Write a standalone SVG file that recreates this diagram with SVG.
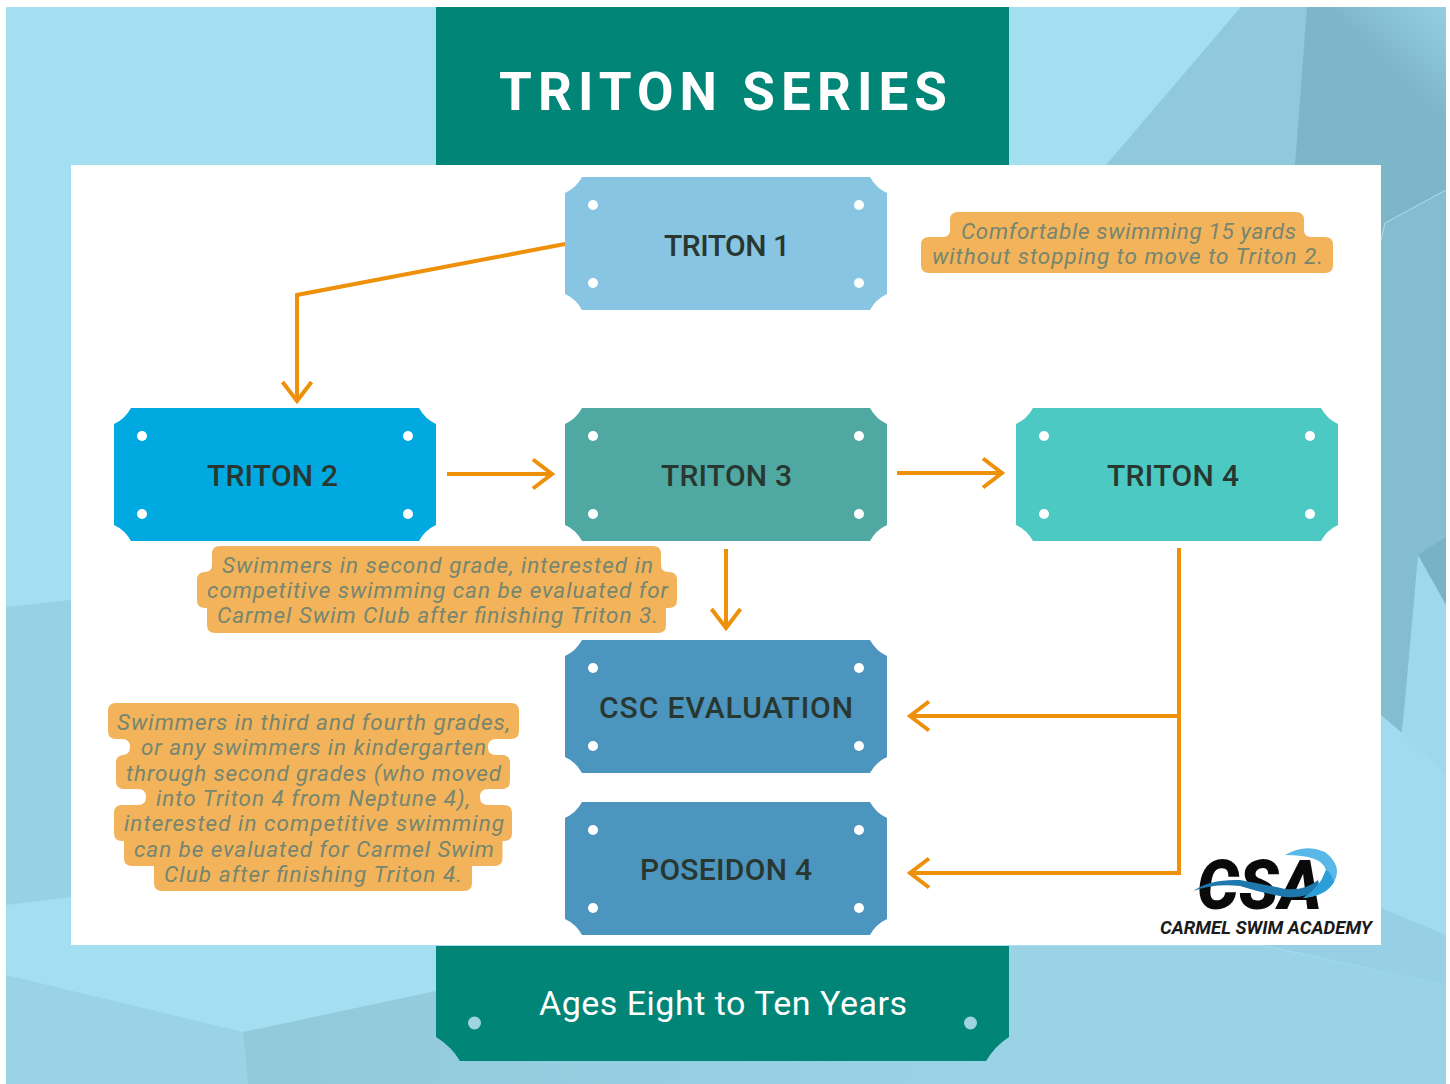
<svg xmlns="http://www.w3.org/2000/svg" xmlns:xlink="http://www.w3.org/1999/xlink" width="1450" height="1084" viewBox="0 0 1450 1084">
<style>
.lbl{font-family:"Roboto","Liberation Sans",sans-serif;font-weight:500;font-size:30px;fill:#28372f}
.note{font-family:"Roboto","Liberation Sans",sans-serif;font-style:italic;font-weight:400;font-size:22.500px;fill:#76866f}
.call{fill:#f2b35b}
.dot{fill:#fff}
.cn{fill:none;stroke:#ee9009;stroke-width:4;stroke-linejoin:miter}
</style>
<defs>
<path id="plaque" d="M17,0H305Q311,11 322,16V117Q311,122 305,133H17Q11,122 0,117V16Q11,11 17,0Z"/>
<g id="dots"><circle class="dot" cx="28" cy="28" r="5"/><circle class="dot" cx="294" cy="28" r="5"/><circle class="dot" cx="28" cy="106" r="5"/><circle class="dot" cx="294" cy="106" r="5"/></g>
<marker id="chev" markerUnits="userSpaceOnUse" markerWidth="30" markerHeight="36" refX="24" refY="18" orient="auto"><path d="M4,3.500L23,18L4,32.500" fill="none" stroke="#ee9009" stroke-width="4"/></marker>
<linearGradient id="gr" gradientUnits="userSpaceOnUse" x1="1388" y1="68" x2="1446" y2="7"><stop offset="0" stop-color="#94cfe2" stop-opacity="0"/><stop offset="1" stop-color="#94cfe2"/></linearGradient>
<linearGradient id="gb" gradientUnits="userSpaceOnUse" x1="300" y1="0" x2="1009" y2="0"><stop offset="0" stop-color="#92cadc"/><stop offset="1" stop-color="#9ad3e6"/></linearGradient>
</defs>
<g id="background">
<rect width="1450" height="1084" fill="#fff"/>
<rect x="6" y="7" width="1440" height="1077" fill="#a4def1"/>
<polygon points="6,607 71,600 71,897 6,905" fill="#96d1e4"/>
<polygon points="1241,7 1446,7 1446,720 1381,720 1381,165 1106,165" fill="#90c9dc"/>
<polygon points="1307,7 1446,7 1446,720 1381,715 1381,165 1295,165" fill="#7db6c8"/>
<polygon points="1330,7 1446,7 1446,130" fill="url(#gr)"/>
<polygon points="1385,223 1446,190 1446,537 1418,555 1402,733 1381,715 1381,240" fill="#84bdcf"/>
<polygon points="1418,555 1446,537 1446,605" fill="#78b3c5"/>
<polygon points="1418,555 1446,605 1446,790 1402,733" fill="#9dd8ec"/>
<polygon points="1381,715 1446,775 1446,935 1381,908" fill="#a0dbef"/>
<polygon points="1381,908 1446,935 1446,985 1263,945 1381,945" fill="#97d0e4"/>
<polygon points="1009,946 1263,946 1446,985 1446,1084 1009,1084" fill="#9ad3e6"/>
<polygon points="6,975 243,1032 248,1084 6,1084" fill="#9ad3e6"/>
<polygon points="243,1032 436,991 1009,991 1009,1084 248,1084" fill="url(#gb)"/>
<polyline points="1381,240 1385,223 1446,190" fill="none" stroke="#a9deee" stroke-width="1"/>
<rect x="71" y="165" width="1310" height="780" fill="#fff"/>
</g>
<g id="header"><rect x="436" y="7" width="573" height="158" fill="#018577"/>
<text x="499" y="110" font-family="Roboto,'Liberation Sans',sans-serif" font-weight="700" font-size="53" fill="#fff" textLength="448" lengthAdjust="spacing">TRITON SERIES</text></g>
<g id="footer"><path d="M436,946H1009V1037Q995,1046 986,1061H460Q451,1046 436,1037Z" fill="#018577"/>
<circle cx="474.500" cy="1023" r="6.500" fill="#9fd3df"/><circle cx="970.500" cy="1023" r="6.500" fill="#9fd3df"/>
<text x="539" y="1015" font-family="Roboto,'Liberation Sans',sans-serif" font-size="34" fill="#fff" textLength="368" lengthAdjust="spacing">Ages Eight to Ten Years</text></g>
<g id="connectors">
<path class="cn" d="M565,244L297,295V402" marker-end="url(#chev)"/>
<path class="cn" d="M447,474H553" marker-end="url(#chev)"/>
<path class="cn" d="M897,473H1003" marker-end="url(#chev)"/>
<path class="cn" d="M726,549V629" marker-end="url(#chev)"/>
<path class="cn" d="M1179,548V873H909" marker-end="url(#chev)"/>
<path class="cn" d="M1179,716H909" marker-end="url(#chev)"/>
</g>
<g id="triton1" transform="translate(565,177)"><use xlink:href="#plaque" fill="#87c5e2"/><use xlink:href="#dots"/><text class="lbl" x="99" y="79" textLength="126" lengthAdjust="spacing">TRITON 1</text></g>
<g id="triton2" transform="translate(114,408)"><use xlink:href="#plaque" fill="#00a9e0"/><use xlink:href="#dots"/><text class="lbl" x="93" y="78" textLength="131" lengthAdjust="spacing">TRITON 2</text></g>
<g id="triton3" transform="translate(565,408)"><use xlink:href="#plaque" fill="#4fa9a2"/><use xlink:href="#dots"/><text class="lbl" x="96" y="78" textLength="131" lengthAdjust="spacing">TRITON 3</text></g>
<g id="triton4" transform="translate(1016,408)"><use xlink:href="#plaque" fill="#4cc9c2"/><use xlink:href="#dots"/><text class="lbl" x="91" y="78" textLength="132" lengthAdjust="spacing">TRITON 4</text></g>
<g id="csc-evaluation" transform="translate(565,640)"><use xlink:href="#plaque" fill="#4c95bf"/><use xlink:href="#dots"/><text class="lbl" x="34" y="78" textLength="254" lengthAdjust="spacing">CSC EVALUATION</text></g>
<g id="poseidon4" transform="translate(565,802)"><use xlink:href="#plaque" fill="#4c95bf"/><use xlink:href="#dots"/><text class="lbl" x="75" y="78" textLength="172" lengthAdjust="spacing">POSEIDON 4</text></g>
<g id="note-triton1">
<path class="call" d="M958,212H1296Q1304,212 1304,220V230Q1304,237 1311,237H1325Q1333,237 1333,245V265Q1333,273 1325,273H929Q921,273 921,265V245Q921,237 929,237H943Q950,237 950,230V220Q950,212 958,212Z"/>
<text class="note" x="961" y="239" textLength="335" lengthAdjust="spacing">Comfortable swimming 15 yards</text>
<text class="note" x="932" y="264" textLength="391" lengthAdjust="spacing">without stopping to move to Triton 2.</text></g>
<g id="note-triton3">
<path class="call" d="M220,546H653Q661,546 661,554V565Q661,572 668,572H669Q677,572 677,580V600Q677,608 669,608H666V625Q666,633 658,633H215Q207,633 207,625V608H205Q197,608 197,600V580Q197,572 205,572H205Q212,572 212,565V554Q212,546 220,546Z"/>
<text class="note" x="222" y="573" textLength="431" lengthAdjust="spacing">Swimmers in second grade, interested in</text>
<text class="note" x="207" y="598" textLength="461" lengthAdjust="spacing">competitive swimming can be evaluated for</text>
<text class="note" x="217" y="623" textLength="441" lengthAdjust="spacing">Carmel Swim Club after finishing Triton 3.</text></g>
<g id="note-triton4">
<path class="call" d="M116,703H511Q519,703 519,711V731Q519,739 511,739H496Q488,739 488,747Q488,755 496,755H502Q510,755 510,763V781Q510,789 502,789H488Q480,789 480,797Q480,805 488,805H504Q512,805 512,813V833Q512,841 504,841H502.500V858Q502.500,866 494.500,866H472V883Q472,891 464,891H162Q154,891 154,883V866H132Q124,866 124,858V841H122Q114,841 114,833V813Q114,805 122,805H138Q146,805 146,797Q146,789 138,789H124Q116,789 116,781V763Q116,755 124,755H122Q130,755 130,747Q130,739 122,739H116Q108,739 108,731V711Q108,703 116,703Z"/>
<text class="note" x="117" y="730" textLength="393" lengthAdjust="spacing">Swimmers in third and fourth grades,</text>
<text class="note" x="141" y="755" textLength="345" lengthAdjust="spacing">or any swimmers in kindergarten</text>
<text class="note" x="126" y="781" textLength="375" lengthAdjust="spacing">through second grades (who moved</text>
<text class="note" x="156" y="806" textLength="314" lengthAdjust="spacing">into Triton 4 from Neptune 4),</text>
<text class="note" x="124" y="831" textLength="380" lengthAdjust="spacing">interested in competitive swimming</text>
<text class="note" x="134" y="857" textLength="360" lengthAdjust="spacing">can be evaluated for Carmel Swim</text>
<text class="note" x="164" y="882" textLength="298" lengthAdjust="spacing">Club after finishing Triton 4.</text></g>
<g id="logo">
<text x="1197" y="909" font-family="Roboto,'Liberation Sans',sans-serif" font-weight="900" font-style="italic" font-size="68" fill="#0a0a0a" textLength="125" lengthAdjust="spacingAndGlyphs">CSA</text>
<path d="M1193,891Q1210,879 1240,880Q1262,884 1285,889Q1305,891 1318,880L1320,889Q1305,899 1285,897Q1262,893 1240,886Q1215,883 1193,891Z" fill="#1f78ad"/>
<path d="M1285,855Q1305,843 1325,852Q1343,866 1334,882Q1326,896 1303,898Q1320,888 1326,870Q1322,855 1285,855Z" fill="#5ab8e8"/>
<path d="M1326,870Q1331,872 1334,882Q1326,896 1303,898Q1320,888 1326,870Z" fill="#2a9fd8"/>
<text x="1160" y="934" font-family="Roboto,'Liberation Sans',sans-serif" font-weight="700" font-style="italic" font-size="19" fill="#1a1a1a" textLength="212" lengthAdjust="spacingAndGlyphs">CARMEL SWIM ACADEMY</text>
</g>
</svg>
